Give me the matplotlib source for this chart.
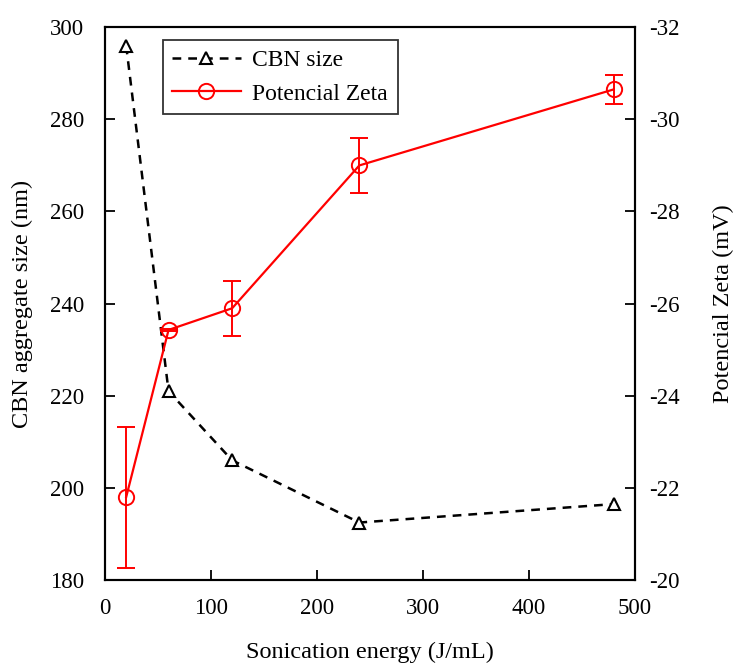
import numpy as np
import matplotlib.pyplot as plt

plt.rcParams['font.family'] = 'Liberation Serif'
plt.rcParams['axes.unicode_minus'] = False

energy = [20, 60, 120, 240, 480]
cbn_size = [296, 221, 206, 192.5, 196.5]
zeta = [-21.8, -25.43, -25.9, -29.0, -30.65]
zeta_err = [1.53, 0.03, 0.6, 0.6, 0.32]

fig = plt.figure(figsize=(7.34, 6.63), dpi=100)
ax1 = fig.add_axes([0.143, 0.125, 0.722, 0.834])
ax2 = ax1.twinx()

l1, = ax1.plot(energy, cbn_size, 'k--^', mfc='white', ms=9, lw=1.8,
               mew=1.5, dashes=(3.5, 2.8), label='CBN size')
eb = ax2.errorbar(energy, zeta, yerr=zeta_err, color='red', marker='o',
                  mfc='none', ms=11, lw=1.6, mew=1.4, capsize=6.5,
                  elinewidth=1.4)
l2 = eb.lines[0]

ax1.set_xlim(0, 500)
ax1.set_ylim(180, 300)
ax1.set_yticks(np.arange(180, 301, 20))
ax1.set_xticks(np.arange(0, 501, 100))
ax2.set_ylim(-20, -32)
ax2.set_yticks(np.arange(-20, -33, -2))

ax1.set_xlabel('Sonication energy (J/mL)', fontsize=17.5, labelpad=16)
ax1.set_ylabel('CBN aggregate size (nm)', fontsize=17.5, labelpad=12)
ax2.set_ylabel('Potencial Zeta (mV)', fontsize=17.5, labelpad=24)

for a in (ax1, ax2):
    a.tick_params(labelsize=16.5, direction='in', length=7, width=1.3)
    for s in a.spines.values():
        s.set_linewidth(1.5)
ax1.tick_params(axis='y', pad=15)
ax1.tick_params(axis='x', pad=13)
ax2.tick_params(axis='y', pad=10)

leg = ax1.legend([l1, l2], ['CBN size', 'Potencial Zeta'],
                 loc='upper left', bbox_to_anchor=(0.109, 0.976),
                 borderaxespad=0, fontsize=17, frameon=True, fancybox=False,
                 edgecolor='black', handlelength=2.9, labelspacing=0.5,
                 borderpad=0.4, handletextpad=0.5)
leg.get_frame().set_linewidth(1.3)
leg.set_zorder(5)

fig.savefig('out.png', dpi=100)
